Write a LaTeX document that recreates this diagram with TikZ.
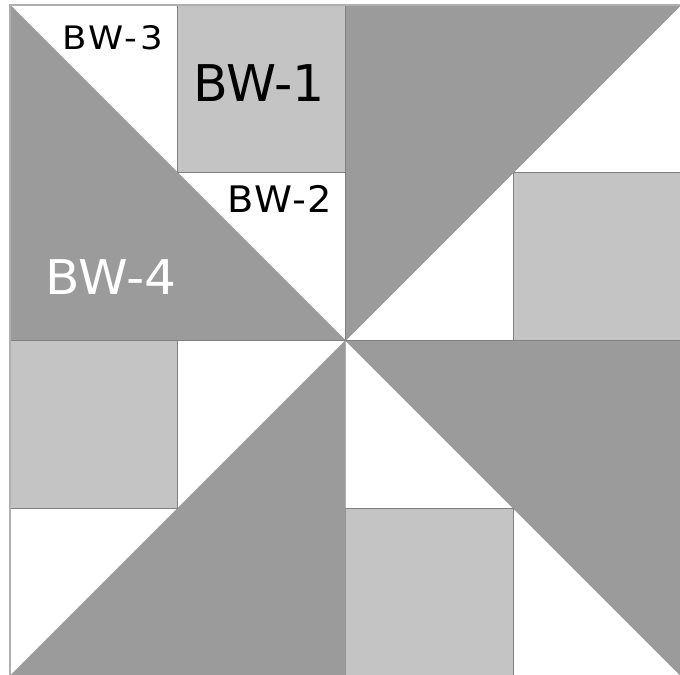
\documentclass[tikz,border=0pt]{standalone}
\usepackage{fontspec}
\setmainfont{DejaVu Sans}
\usetikzlibrary{positioning}
\definecolor{darkpatch}{RGB}{155,155,155}
\definecolor{lightpatch}{RGB}{196,196,196}
\definecolor{seam}{RGB}{128,128,128}
\definecolor{edgeline}{RGB}{175,175,175}
\tikzset{
  darktri/.style={fill=darkpatch, draw=darkpatch, line width=0.3pt},
  lightsq/.style={fill=lightpatch, draw=seam, line width=0.9pt},
  border/.style={draw=edgeline, line width=1.2pt},
  piecelabel/.style={anchor=base, inner sep=0pt},
}

\begin{document}
\begin{tikzpicture}
  \useasboundingbox (0,0) rectangle (17,16.85);
  \clip (0,0) rectangle (17,16.85);
  \fill[white] (0,0) rectangle (17,16.85);

  \begin{scope}[shift={(0.25,16.725)}, x=4.19375cm, y=-4.19375cm]
    % top left
    \path[darktri] (0,0) -- (0,2) -- (2,2) -- cycle;
    \path[lightsq] (1,0) rectangle (2,1);
    % top right
    \path[darktri] (2,0) -- (4,0) -- (2,2) -- cycle;
    \path[lightsq] (3,1) rectangle (4,2);
    % bottom right
    \path[darktri] (2,2) -- (4,2) -- (4,4) -- cycle;
    \path[lightsq] (2,3) rectangle (3,4);
    % bottom left
    \path[darktri] (2,2) -- (2,4) -- (0,4) -- cycle;
    \path[lightsq] (0,2) rectangle (1,3);
    % seams between the quadrants
    \draw[seam, line width=0.9pt] (2,0) -- (2,2) -- (0,2);
    \draw[seam, line width=0.9pt] (2,2) -- (4,2);
    \draw[border] (0,4) -- (0,0) -- (4,0);
  \end{scope}

  \node[piecelabel, xscale=1.1, font=\fontsize{23}{23}\selectfont\addfontfeature{LetterSpace=8}] (bw3) at (2.8125,15.6) {BW-3};
  \node[piecelabel, font=\fontsize{36}{36}\selectfont] (bw1) at (6.475,14.3) {BW-1};
  \node[piecelabel, xscale=1.05, font=\fontsize{26}{26}\selectfont\addfontfeature{LetterSpace=4}] (bw2) at (7.0,11.54) {BW-2};
  \node[piecelabel, xscale=1.05, font=\fontsize{34}{34}\selectfont, text=white] (bw4) at (2.775,9.475) {BW-4};
\end{tikzpicture}
\end{document}
